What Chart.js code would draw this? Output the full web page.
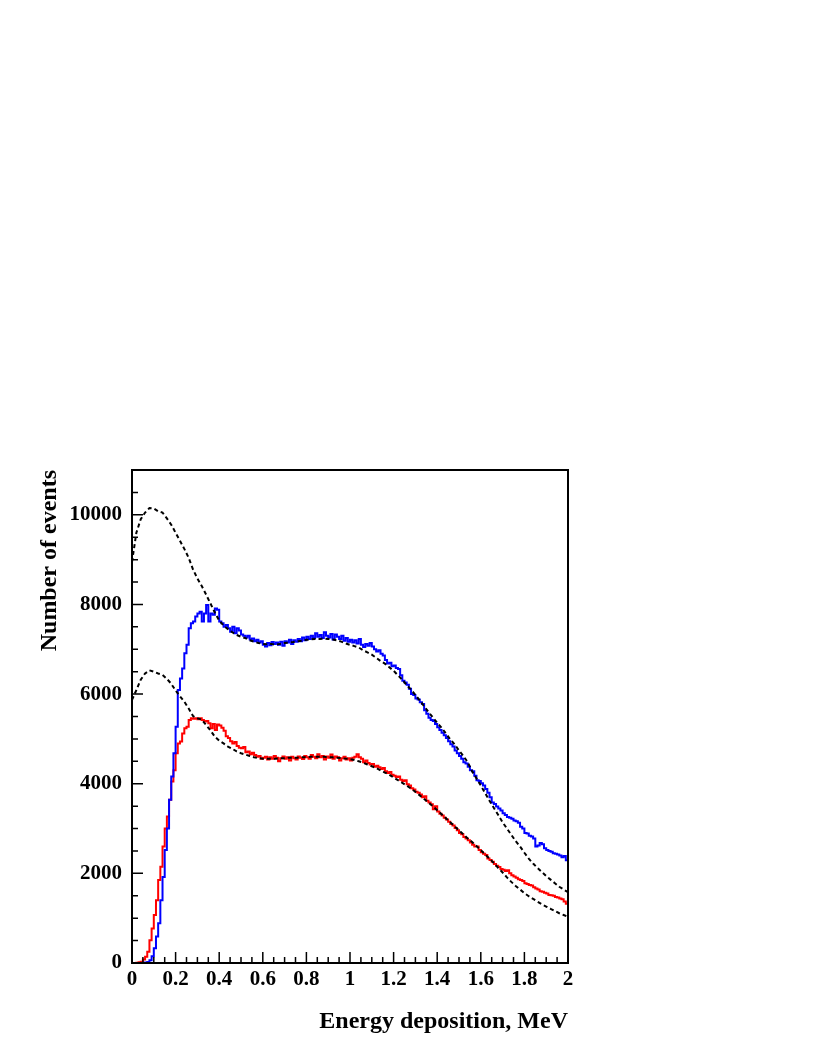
<!DOCTYPE html>
<html><head><meta charset="utf-8">
<script src="https://cdn.jsdelivr.net/npm/chart.js@4/dist/chart.umd.min.js"></script>
<style>html,body{margin:0;padding:0;background:#fff}canvas{display:block}</style>
</head><body>
<canvas id="c" width="817" height="1058"></canvas>
<script>
// Histogram bins: 0.01 MeV wide, starting at 0
const binWidth = 0.01;
const redCounts = [
0,0,5,15,30,80,140,250,510,770,
1070,1400,1850,2150,2600,3000,3270,3640,4050,4300,
4680,4900,4940,5120,5240,5270,5420,5460,5450,5460,
5440,5460,5420,5390,5400,5350,5240,5330,5200,5320,
5300,5250,5180,5060,5020,4950,4900,4930,4840,4800,
4790,4820,4700,4720,4660,4690,4640,4600,4620,4560,
4580,4600,4540,4590,4560,4620,4580,4500,4570,4610,
4560,4590,4520,4600,4570,4540,4610,4580,4550,4620,
4590,4560,4640,4600,4570,4660,4590,4620,4540,4610,
4580,4650,4560,4610,4590,4520,4570,4600,4540,4570,
4520,4580,4600,4660,4590,4560,4480,4520,4460,4430,
4440,4380,4400,4370,4330,4350,4280,4240,4260,4200,
4180,4150,4160,4090,4060,4080,3990,3960,3900,3870,
3820,3800,3760,3700,3720,3620,3580,3540,3430,3500,
3380,3330,3290,3240,3200,3150,3100,3070,3010,2960,
2900,2870,2810,2780,2740,2690,2640,2600,2600,2520,
2470,2440,2410,2330,2300,2260,2210,2170,2140,2100,
2080,2050,2070,2000,1960,1930,1900,1870,1850,1830,
1780,1760,1740,1730,1690,1660,1640,1600,1590,1570,
1550,1520,1510,1500,1470,1460,1440,1420,1370,1320];
const blueCounts = [
0,0,0,0,0,5,10,25,60,150,
330,590,885,1400,1920,2520,3000,3640,4160,4680,
5270,6090,6350,6570,6910,7100,7470,7580,7620,7730,
7800,7840,7620,7800,7990,7620,7800,7770,7910,7880,
7620,7580,7500,7540,7470,7390,7500,7360,7470,7420,
7330,7300,7260,7300,7220,7240,7180,7210,7150,7180,
7100,7060,7140,7090,7160,7120,7150,7100,7170,7080,
7180,7150,7210,7120,7200,7170,7230,7180,7260,7200,
7280,7230,7300,7250,7360,7280,7320,7250,7380,7300,
7260,7340,7220,7330,7280,7230,7300,7190,7250,7170,
7210,7150,7200,7130,7230,7100,7050,7120,7080,7140,
7060,7000,6950,6980,6900,6860,6760,6680,6700,6620,
6640,6580,6560,6420,6300,6260,6210,6120,6000,5980,
5900,5880,5820,5780,5640,5560,5470,5420,5400,5330,
5260,5200,5140,5080,5020,4950,4880,4830,4740,4680,
4620,4560,4480,4450,4380,4300,4280,4180,4080,4060,
4010,3960,3880,3800,3700,3580,3550,3490,3450,3400,
3340,3300,3260,3240,3220,3180,3160,3130,3040,3000,
2900,2890,2840,2820,2780,2600,2620,2680,2650,2560,
2520,2500,2480,2450,2440,2420,2400,2360,2390,2290];
// Dashed (simulation) curves sampled every 0.02 MeV
const dashStep = 0.02;
const upperDashed = [
8950,9600,9900,10050,10150,10140,10080,10050,9920,9780,
9600,9420,9240,9040,8780,8580,8410,8220,8020,7820,
7640,7530,7450,7380,7320,7280,7250,7200,7170,7140,
7120,7110,7120,7100,7120,7140,7150,7160,7180,7190,
7210,7220,7230,7230,7240,7230,7220,7200,7170,7130,
7100,7070,7040,6980,6930,6880,6810,6740,6680,6600,
6520,6420,6320,6200,6100,5980,5860,5730,5600,5480,
5360,5250,5120,4990,4880,4740,4620,4480,4280,4120,
3960,3790,3620,3460,3300,3140,3000,2860,2720,2600,
2460,2330,2220,2120,2030,1940,1860,1780,1700,1640,
1580];
const lowerDashed = [
5870,6090,6320,6460,6530,6500,6460,6430,6340,6230,
6080,5950,5830,5680,5510,5460,5430,5310,5190,5050,
4960,4900,4830,4780,4720,4680,4650,4620,4590,4570,
4560,4560,4560,4560,4570,4570,4580,4580,4580,4590,
4590,4600,4600,4600,4600,4590,4590,4580,4570,4560,
4550,4530,4500,4470,4430,4390,4350,4300,4250,4200,
4140,4080,4020,3960,3890,3820,3740,3660,3580,3500,
3410,3320,3230,3140,3050,2960,2870,2780,2700,2610,
2520,2420,2330,2230,2120,2020,1910,1810,1720,1640,
1560,1490,1430,1370,1310,1260,1210,1160,1110,1070,
1030];
const xTickValues = [0,0.2,0.4,0.6,0.8,1,1.2,1.4,1.6,1.8,2];
const xTickLabels = ['0','0.2','0.4','0.6','0.8','1','1.2','1.4','1.6','1.8','2'];
const yTickValues = [0,2000,4000,6000,8000,10000];
const yTickLabels = ['0','2000','4000','6000','8000','10000'];
const xTitle = 'Energy deposition, MeV';
const yTitle = 'Number of events';

function histPoints(counts){
  const pts = counts.map((v,i)=>({x: +(i*binWidth).toFixed(4), y: v}));
  pts.push({x: +(counts.length*binWidth).toFixed(4), y: counts[counts.length-1]});
  return pts;
}
function linePoints(vals){ return vals.map((v,i)=>({x: +(i*dashStep).toFixed(4), y: v})); }

const FONT = 'Liberation Serif';

const frameTicks = {
  id: 'frameTicks',
  afterDraw(chart){
    const {ctx, chartArea: a, scales: {x, y}} = chart;
    ctx.save();
    ctx.strokeStyle = '#000';
    ctx.lineWidth = 1.5;
    ctx.beginPath();
    for (let k = 0; k < 40; k++) {
      const px = x.getPixelForValue(k*0.05);
      const len = k % 4 === 0 ? 11 : 6;
      ctx.moveTo(px, a.bottom); ctx.lineTo(px, a.bottom - len);
    }
    for (let k = 0; k < 22; k++) {
      const py = y.getPixelForValue(k*500);
      const len = k % 4 === 0 ? 11 : 6;
      ctx.moveTo(a.left, py); ctx.lineTo(a.left + len, py);
    }
    ctx.stroke();
    ctx.lineWidth = 2;
    ctx.strokeRect(a.left, a.top, a.right - a.left, a.bottom - a.top);
    ctx.restore();
  }
};

new Chart(document.getElementById('c'), {
  type: 'line',
  data: {
    datasets: [
      {data: linePoints(upperDashed), borderColor:'#000', borderWidth:2, borderDash:[4,3], pointRadius:0, order:0, tension:0},
      {data: linePoints(lowerDashed), borderColor:'#000', borderWidth:2, borderDash:[4,3], pointRadius:0, order:0, tension:0},
      {data: histPoints(blueCounts), borderColor:'#0000ff', borderWidth:2, stepped:'before', pointRadius:0, order:1},
      {data: histPoints(redCounts), borderColor:'#ff0000', borderWidth:2, stepped:'before', pointRadius:0, order:2}
    ]
  },
  options: {
    responsive: false,
    animation: false,
    devicePixelRatio: 1,
    layout: {padding: {top: 470, right: 249, bottom: 0, left: 0}},
    plugins: {legend: {display:false}, tooltip: {enabled:false}},
    scales: {
      x: {
        type: 'linear', min: 0, max: 2,
        grid: {display:false, drawTicks:false},
        border: {display:false},
        afterBuildTicks: s => { s.ticks = xTickValues.map(v => ({value: v})); },
        ticks: {autoSkip:false, maxRotation:0, padding:4, color:'#000',
                font:{family:FONT, weight:'bold', size:21},
                callback: (v, i) => xTickLabels[i]},
        title: {display:true, text:xTitle, align:'end', color:'#000',
                font:{family:FONT, weight:'bold', size:24}, padding:{top:0, bottom:22}},
        afterFit: s => { s.height = 95; }
      },
      y: {
        type: 'linear', min: 0, max: 11000,
        grid: {display:false, drawTicks:false},
        border: {display:false},
        afterBuildTicks: s => { s.ticks = yTickValues.map(v => ({value: v})); },
        ticks: {autoSkip:false, padding:10, color:'#000',
                font:{family:FONT, weight:'bold', size:21},
                callback: (v, i) => yTickLabels[i]},
        title: {display:true, text:yTitle, align:'end', color:'#000',
                font:{family:FONT, weight:'bold', size:24}, padding:{top:35, bottom:0}},
        afterFit: s => { s.width = 132; }
      }
    }
  },
  plugins: [frameTicks]
});
</script>
</body></html>
